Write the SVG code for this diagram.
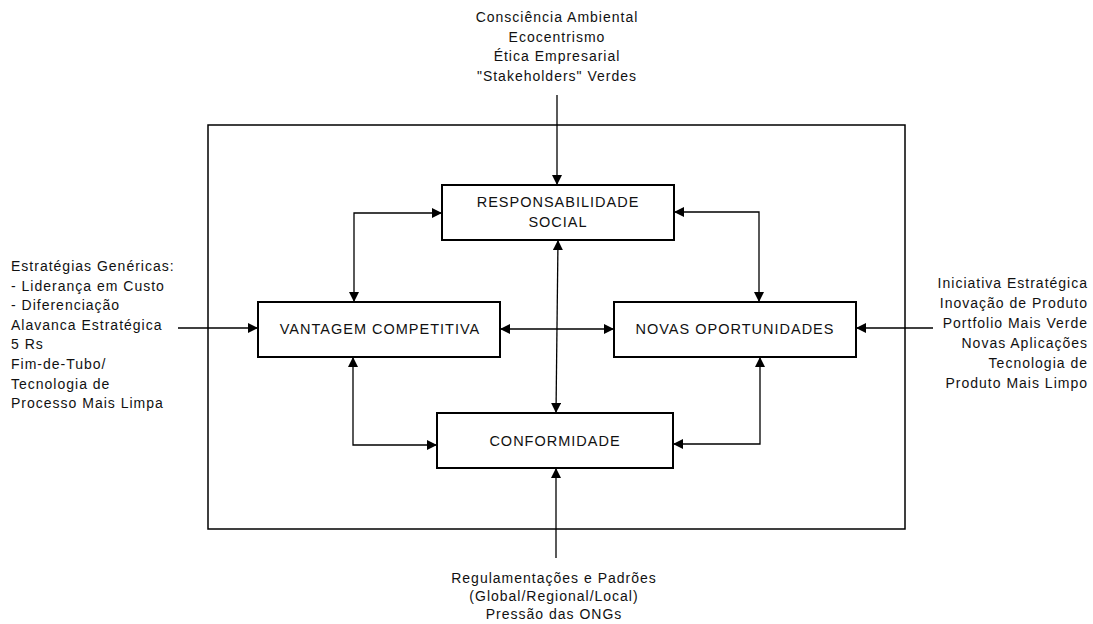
<svg xmlns="http://www.w3.org/2000/svg" width="1093" height="624" viewBox="0 0 1093 624">
  <defs>
    <marker id="arrow" viewBox="0 0 10 10" refX="10" refY="5" markerWidth="10" markerHeight="10" markerUnits="userSpaceOnUse" orient="auto-start-reverse">
      <path d="M0,0 L10,5 L0,10 z" fill="#000"/>
    </marker>
    <style>
      .frame { fill: none; stroke: #000; stroke-width: 1.5; }
      .box { fill: #fff; stroke: #000; stroke-width: 2; }
      .conn { fill: none; stroke: #000; stroke-width: 1.3; }
      .one { marker-end: url(#arrow); }
      .two { marker-start: url(#arrow); marker-end: url(#arrow); }
      .lbl { font-family: "Liberation Sans", Arial, sans-serif; font-size: 14.5px; letter-spacing: 1px; fill: #111; text-anchor: middle; }
      .note { font-family: "Liberation Sans", Arial, sans-serif; font-size: 14px; letter-spacing: 1px; fill: #111; }
      .mid { text-anchor: middle; }
      .end { text-anchor: end; }
      .start { text-anchor: start; }
    </style>
  </defs>
  <rect width="1093" height="624" fill="#fff"/>

  <!-- outer frame -->
  <rect class="frame" x="208" y="125" width="697" height="404"/>

  <!-- connectors -->
  <g id="connectors">
    <path class="conn one" d="M557,95 V185"/>
    <path class="conn one" d="M556,558 V468"/>
    <path class="conn one" d="M178,328 H258"/>
    <path class="conn one" d="M933,328 H856"/>
    <path class="conn two" d="M442,213 H354 V302"/>
    <path class="conn two" d="M674,212 H759 V302"/>
    <path class="conn two" d="M353,357 V445 H437"/>
    <path class="conn two" d="M760,357 V444 H673"/>
    <path class="conn two" d="M500,329 H614"/>
    <path class="conn two" d="M558,240 L556,413"/>
  </g>

  <!-- nodes -->
  <g id="responsabilidade-social">
    <rect class="box" x="442" y="185" width="232" height="55"/>
    <text class="lbl" x="558" y="207">RESPONSABILIDADE</text>
    <text class="lbl" x="558" y="227">SOCIAL</text>
  </g>
  <g id="vantagem-competitiva">
    <rect class="box" x="258" y="302" width="242" height="55"/>
    <text class="lbl" x="380" y="334">VANTAGEM COMPETITIVA</text>
  </g>
  <g id="novas-oportunidades">
    <rect class="box" x="614" y="302" width="242" height="55"/>
    <text class="lbl" x="735" y="334">NOVAS OPORTUNIDADES</text>
  </g>
  <g id="conformidade">
    <rect class="box" x="437" y="413" width="236" height="55"/>
    <text class="lbl" x="555" y="446">CONFORMIDADE</text>
  </g>

  <!-- external drivers -->
  <g id="drivers-top">
    <text class="note mid" x="557" y="22">Consciência Ambiental</text>
    <text class="note mid" x="557" y="41.5">Ecocentrismo</text>
    <text class="note mid" x="557" y="61">Ética Empresarial</text>
    <text class="note mid" x="557" y="80.5">"Stakeholders" Verdes</text>
  </g>
  <g id="drivers-left">
    <text class="note start" x="11" y="271">Estratégias Genéricas:</text>
    <text class="note start" x="11" y="290.6">- Liderança em Custo</text>
    <text class="note start" x="11" y="310.2">- Diferenciação</text>
    <text class="note start" x="11" y="329.8">Alavanca Estratégica</text>
    <text class="note start" x="11" y="349.4">5 Rs</text>
    <text class="note start" x="11" y="369">Fim-de-Tubo/</text>
    <text class="note start" x="11" y="388.6">Tecnologia de</text>
    <text class="note start" x="11" y="408">Processo Mais Limpa</text>
  </g>
  <g id="drivers-right">
    <text class="note end" x="1088" y="288">Iniciativa Estratégica</text>
    <text class="note end" x="1088" y="308">Inovação de Produto</text>
    <text class="note end" x="1088" y="328">Portfolio Mais Verde</text>
    <text class="note end" x="1088" y="348">Novas Aplicações</text>
    <text class="note end" x="1088" y="368">Tecnologia de</text>
    <text class="note end" x="1088" y="388">Produto Mais Limpo</text>
  </g>
  <g id="drivers-bottom">
    <text class="note mid" x="554" y="583">Regulamentações e Padrões</text>
    <text class="note mid" x="554" y="601">(Global/Regional/Local)</text>
    <text class="note mid" x="554" y="619">Pressão das ONGs</text>
  </g>
</svg>
